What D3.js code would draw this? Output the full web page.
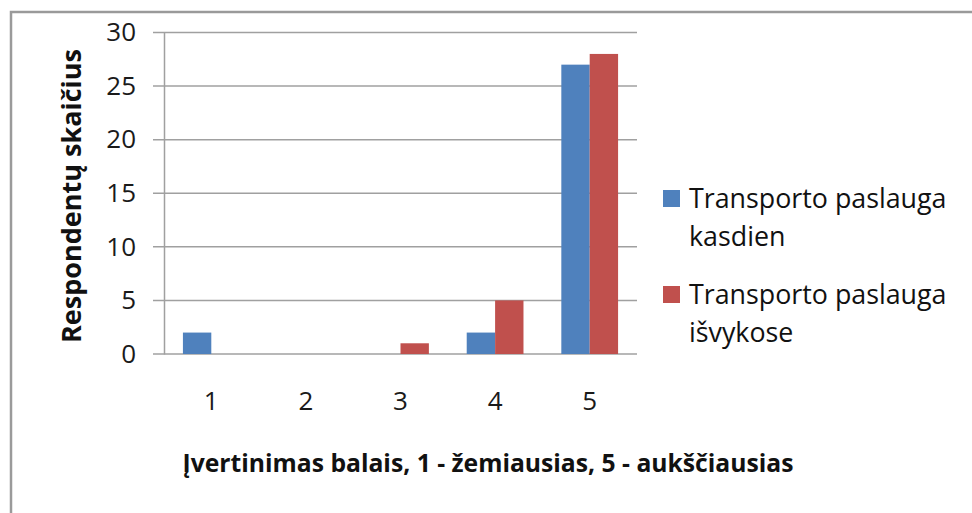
<!DOCTYPE html>
<html lang="lt">
<head>
    <meta charset="UTF-8">
    <title>Respondentų skaičius</title>
    <script src="https://d3js.org/d3.v7.min.js"></script>
    <style>
        body {
            margin: 0;
            background-color: #ffffff;
        }
        svg {
            font-family: "Open Sans", sans-serif;
            display: block;
        }
        .axis text {
            font-family: "Open Sans", sans-serif;
            font-size: 26px;
            fill: #1a1a1a;
        }
        .axis path,
        .axis line {
            stroke: #a0a0a0;
        }
        .grid line {
            stroke: #a0a0a0;
            stroke-width: 1.5px;
        }
        .title {
            font-weight: bold;
            fill: #111;
        }
        .legend-text {
            font-size: 26.8px;
            fill: #111;
        }
    </style>
</head>
<body>
<svg width="972" height="513"></svg>
<script>
    const categories = ["1", "2", "3", "4", "5"];
    const seriesNames = ["Transporto paslauga kasdien", "Transporto paslauga išvykose"];
    const dailyValues = [2, 0, 0, 2, 27];
    const tripValues = [0, 0, 1, 5, 28];
    const yTicks = [0, 5, 10, 15, 20, 25, 30];
    const colors = ["#4f81bd", "#c0504d"];

    const svg = d3.select("svg"),
        margin = {top: 32.5, right: 335, bottom: 159, left: 164},
        width = +svg.attr("width") - margin.left - margin.right,
        height = +svg.attr("height") - margin.top - margin.bottom,
        g = svg.append("g").attr("transform", `translate(${margin.left},${margin.top})`);

    // outer frame (only top and left edges are visible)
    svg.append("path")
        .attr("d", "M11,513 V12 H972")
        .attr("fill", "none")
        .attr("stroke", "#9a9a9a")
        .attr("stroke-width", 2.5);

    const x = d3.scaleBand().domain(categories).range([0, width]);
    const xInner = d3.scaleBand().domain(d3.range(seriesNames.length))
        .range([x.bandwidth() * 0.2, x.bandwidth() * 0.8]);
    const y = d3.scaleLinear().domain([0, 30]).range([height, 0]);

    // gridlines
    g.append("g")
        .attr("class", "grid")
        .selectAll("line")
        .data(yTicks)
        .join("line")
        .attr("x1", -11)
        .attr("x2", width)
        .attr("y1", d => y(d))
        .attr("y2", d => y(d));

    const rows = categories.map((c, i) => ({cat: c, values: [dailyValues[i], tripValues[i]]}));

    g.selectAll(".group")
        .data(rows)
        .join("g")
        .attr("class", "group")
        .attr("transform", d => `translate(${x(d.cat)},0)`)
        .selectAll("rect")
        .data(d => d.values.map((v, k) => ({k, v})))
        .join("rect")
        .attr("x", d => xInner(d.k))
        .attr("width", xInner.bandwidth())
        .attr("y", d => y(d.v))
        .attr("height", d => height - y(d.v))
        .attr("fill", d => colors[d.k]);

    // y axis
    const yAxis = g.append("g")
        .attr("class", "axis")
        .call(d3.axisLeft(y).tickValues(yTicks).tickSize(0).tickPadding(28));
    yAxis.select(".domain").attr("stroke-width", 1.5);

    // x axis labels
    const xAxis = g.append("g")
        .attr("class", "axis")
        .attr("transform", `translate(0,${height})`)
        .call(d3.axisBottom(x).tickSize(0).tickPadding(38));
    xAxis.select(".domain").remove();

    svg.append("text")
        .attr("class", "title")
        .attr("transform", "rotate(-90)")
        .attr("x", -196)
        .attr("y", 81)
        .attr("text-anchor", "middle")
        .style("font-size", "27px")
        .text("Respondentų skaičius");

    svg.append("text")
        .attr("class", "title")
        .attr("x", 488)
        .attr("y", 472)
        .attr("text-anchor", "middle")
        .style("font-size", "24.7px")
        .text("Įvertinimas balais, 1 - žemiausias, 5 - aukščiausias");

    // legend
    const legend = svg.append("g").attr("transform", "translate(663,190)");
    seriesNames.forEach((name, i) => {
        const item = legend.append("g").attr("transform", `translate(0,${i * 96})`);
        item.append("rect")
            .attr("width", 17)
            .attr("height", 17)
            .attr("fill", colors[i]);
        const words = name.split(" ");
        const t = item.append("text").attr("class", "legend-text").attr("x", 26).attr("y", 18);
        t.append("tspan").attr("x", 26).text(words.slice(0, 2).join(" "));
        t.append("tspan").attr("x", 26).attr("dy", 38).text(words.slice(2).join(" "));
    });
</script>
</body>
</html>
